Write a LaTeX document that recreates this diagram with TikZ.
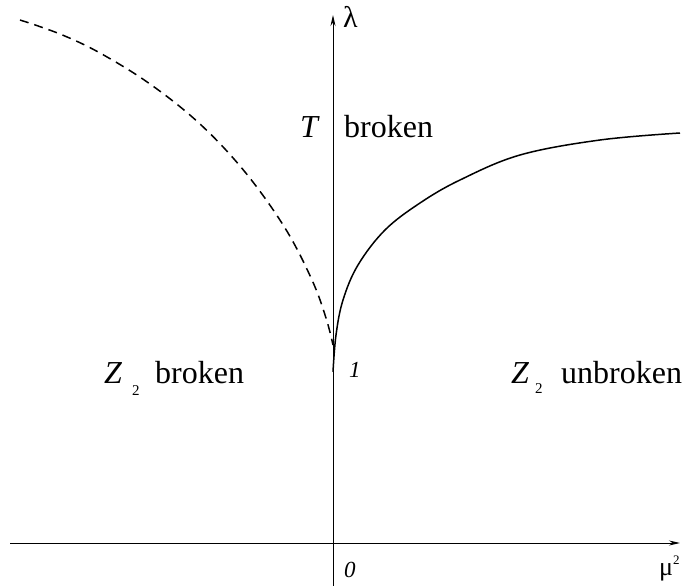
\documentclass[tikz,border=0pt]{standalone}
\usepackage{fontspec}
\setmainfont{Liberation Serif}
\usetikzlibrary{arrows.meta}
\begin{document}
\begin{tikzpicture}[x=1pt,y=-1pt,
  axis/.style={line width=1pt,-{Stealth[length=11pt,width=5pt]}},
  curve/.style={line width=1.5pt},
  lbl/.style={inner sep=0pt,anchor=base west,font=\fontsize{32}{36}\selectfont},
  sub/.style={inner sep=0pt,anchor=base west,font=\fontsize{15}{17}\selectfont},
  num/.style={inner sep=0pt,anchor=base west,font=\fontsize{23}{26}\selectfont\itshape}]
\useasboundingbox (0,0) rectangle (686,586);
\coordinate (vbot) at (333,586);
\coordinate (vtop) at (333,15);
\coordinate (hleft) at (10,543);
\coordinate (hright) at (680,543);
\draw[axis] (vbot) -- (vtop);
\draw[axis] (hleft) -- (hright);
\node[inner sep=0pt,anchor=base west,font=\fontsize{30}{34}\selectfont] (lam) at (343,28) {λ};
\node[inner sep=0pt,anchor=base west,font=\fontsize{26}{30}\selectfont] (mu) at (659,575) {μ\raisebox{11pt}{\fontsize{13}{15}\selectfont 2}};
\node[num] (one) at (349,377) {1};
\node[num] (zero) at (344,577) {0};
\node[lbl] (T) at (300,137) {\itshape T};
\node[lbl] (tb) at (344,137) {broken};
\node[lbl] (zl) at (104,383) {\itshape Z};
\node[sub] (zls) at (132,395) {2};
\node[lbl] (bl) at (155,383) {broken};
\node[lbl] (zr) at (511,383) {\itshape Z};
\node[sub] (zrs) at (535,393) {2};
\node[lbl] (br) at (561,383) {unbroken};
\draw[curve] plot[smooth,tension=0.6] coordinates {(333,372) (336,335) (343,300) (358,265) (385,230) (420,203) (460,180) (520,155) (600,140) (680,133)};
\draw[curve,dash pattern=on 9pt off 6pt] plot[smooth,tension=0.6] coordinates {(20,20) (60,34) (100,53) (150,84) (200,124) (245,172) (285,228) (312,280) (326,318) (333,345)};
\end{tikzpicture}
\end{document}
